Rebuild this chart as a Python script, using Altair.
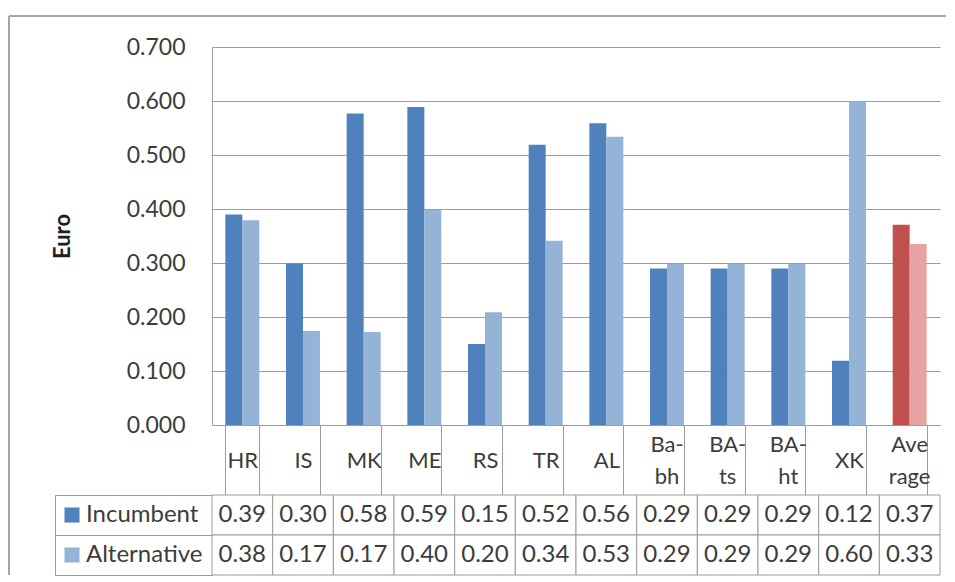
import altair as alt
import pandas as pd

# ---- data ----
categories = ["HR", "IS", "MK", "ME", "RS", "TR", "AL", "Ba-bh", "BA-ts", "BA-ht", "XK", "Average"]
series = ["Incumbent", "Alternative"]
incumbent = [0.390, 0.299, 0.577, 0.589, 0.150, 0.519, 0.559, 0.290, 0.290, 0.290, 0.119, 0.371]
alternative = [0.379, 0.174, 0.172, 0.398, 0.209, 0.341, 0.534, 0.298, 0.298, 0.298, 0.599, 0.335]
incumbent_labels = ["0.39", "0.30", "0.58", "0.59", "0.15", "0.52", "0.56", "0.29", "0.29", "0.29", "0.12", "0.37"]
alternative_labels = ["0.38", "0.17", "0.17", "0.40", "0.20", "0.34", "0.53", "0.29", "0.29", "0.29", "0.60", "0.33"]
y_ticks = [0.0, 0.1, 0.2, 0.3, 0.4, 0.5, 0.6, 0.7]
highlight = "Average"

rows = []
for i, c in enumerate(categories):
    for s, vals, labs in (("Incumbent", incumbent, incumbent_labels),
                          ("Alternative", alternative, alternative_labels)):
        key = s + (" (avg)" if c == highlight else "")
        rows.append({"category": c, "series": s, "value": vals[i], "label": labs[i], "key": key})
df = pd.DataFrame(rows)

keys = ["Incumbent", "Alternative", "Incumbent (avg)", "Alternative (avg)"]
key_colors = ["#4F81BD", "#95B3D7", "#C0504D", "#E6A3A1"]

FONT = "Lato"
TXT = "#3c3c3c"
GRID = "#9c9c9c"
FRAME = "#a6a6a6"

wrapped = "(indexof(datum.label, '-') > 0 || datum.label == 'Average')"
single_expr = wrapped + " ? '' : datum.label"
double_expr = ("indexof(datum.label, '-') > 0 ? "
               "[slice(datum.label, 0, indexof(datum.label, '-') + 1), slice(datum.label, indexof(datum.label, '-') + 1)] : "
               "(datum.label == 'Average' ? ['Ave', 'rage'] : '')")

x_scale = alt.Scale(paddingInner=0.44, paddingOuter=0.22)
x_bar = alt.X(
    "category:N", sort=categories, scale=x_scale,
    axis=alt.Axis(title=None, orient="bottom", domain=True, domainColor=GRID, ticks=True,
                  tickBand="extent", tickSize=70, tickColor=GRID, labelPadding=-35,
                  labelBaseline="middle", labelExpr=single_expr, labelFont=FONT,
                  labelFontSize=22, labelColor=TXT, labelAngle=0, labelOverlap=False),
)
x_wrap = alt.X(
    "category:N", sort=categories, scale=x_scale,
    axis=alt.Axis(title=None, orient="bottom", domain=False, ticks=False, grid=False,
                  labelPadding=19, labelBaseline="middle", labelExpr=double_expr,
                  labelFont=FONT, labelFontSize=22, labelColor=TXT, labelLineHeight=32,
                  labelAngle=0, labelOverlap=False),
)
y_bar = alt.Y(
    "value:Q", scale=alt.Scale(domain=[0, 0.7], nice=False),
    axis=alt.Axis(title="Euro", values=y_ticks, format=".3f", grid=True, gridColor=GRID,
                  domain=True, domainColor=GRID, ticks=False, labelPadding=27,
                  labelFont=FONT, labelFontSize=23, labelColor=TXT,
                  titleFont=FONT, titleFontSize=22, titleFontWeight="bold", titleColor="#202020",
                  titlePadding=52),
)
bars = alt.Chart(df).mark_bar().encode(
    x=x_bar,
    xOffset=alt.XOffset("series:N", sort=series, scale=alt.Scale(paddingInner=0, paddingOuter=0)),
    y=y_bar,
    color=alt.Color("key:N", scale=alt.Scale(domain=keys, range=key_colors), legend=None),
)
wrap_labels = alt.Chart(df).mark_point(opacity=0).encode(x=x_wrap, y=alt.Y("value:Q"))

one = pd.DataFrame({"frame": [0]})
frame_top = alt.Chart(one).mark_rule(color=FRAME, strokeWidth=2).encode(
    x=alt.value(-203), x2=alt.value(734), y=alt.value(-31))
frame_left = alt.Chart(one).mark_rule(color=FRAME, strokeWidth=2).encode(
    x=alt.value(-203), y=alt.value(-31), y2=alt.value(528))

bar_panel = alt.layer(bars, wrap_labels, frame_top, frame_left).resolve_axis(
    x="independent").properties(width=728, height=378)

x_tab = alt.X("category:N", sort=categories, scale=alt.Scale(paddingInner=0, paddingOuter=0), axis=None)
y_tab = alt.Y("series:N", sort=series, scale=alt.Scale(paddingInner=0, paddingOuter=0),
              axis=alt.Axis(title=None, labels=False, domain=False, ticks=True, tickBand="extent",
                            tickSize=157, tickColor=GRID, orient="left"))
y_tab_edge = alt.Y("series:N", sort=series,
                   axis=alt.Axis(title=None, labels=False, ticks=False, domain=True, domainColor=GRID,
                                 orient="left", offset=157))

cells = alt.Chart(df).mark_rect(fill="white", stroke=GRID, strokeWidth=1).encode(x=x_tab, y=y_tab)
texts = alt.Chart(df).mark_text(font=FONT, fontSize=24, color=TXT).encode(
    x=x_tab, y=y_tab_edge, text="label:N")
swatches = alt.Chart(df).mark_square(opacity=0).encode(
    x=x_tab, y=y_tab,
    color=alt.Color("series:N", sort=series,
                    scale=alt.Scale(domain=series, range=key_colors[:2]),
                    legend=alt.Legend(orient="none", legendX=-152, legendY=8, title=None,
                                      symbolType="square", symbolSize=225, symbolOpacity=1,
                                      symbolStrokeWidth=0, labelFont=FONT, labelFontSize=24,
                                      labelColor=TXT, labelOffset=2, rowPadding=16, padding=0)),
)
table = alt.layer(cells, texts, swatches).resolve_axis(y="independent").properties(width=728, height=80)

chart = alt.vconcat(bar_panel, table, spacing=70, bounds="flush").resolve_scale(
    color="independent", x="independent"
).properties(
    padding={"left": 0, "top": 7, "right": 0, "bottom": 0},
    background="white",
).configure_view(stroke=None)

chart.save("out.html", embed_options={"renderer": "svg", "actions": False})
